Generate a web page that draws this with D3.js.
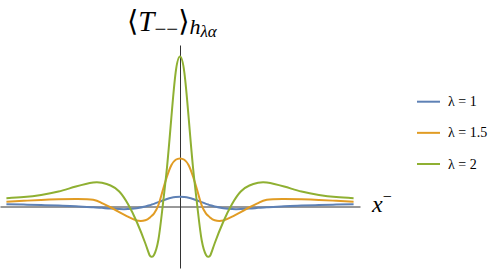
<!DOCTYPE html>
<html>
<head>
<meta charset="utf-8">
<script src="https://cdn.jsdelivr.net/npm/d3@7"></script>
<style>
  body { margin: 0; background: #fff; }
  svg { display: block; }
</style>
</head>
<body>
<div id="chart"></div>
<script>
// sample positions along x-
const xValues = [-10, -9, -8, -7, -6, -5, -4.5, -4, -3.5, -3, -2.5, -2, -1.75, -1.625, -1.5, -1.25, -1, -0.75, -0.5, -0.25,
  0, 0.25, 0.5, 0.75, 1, 1.25, 1.5, 1.625, 1.75, 2, 2.5, 3, 3.5, 4, 4.5, 5, 6, 7, 8, 9, 10];

const lambda1 = [0.15, 0.13, 0.1, 0.06, 0.02, -0.05, -0.09, -0.14, -0.17, -0.17, -0.11, 0.0, 0.08, 0.13, 0.18, 0.29, 0.4, 0.5, 0.58, 0.63,
  0.65, 0.63, 0.58, 0.5, 0.4, 0.29, 0.18, 0.13, 0.08, 0.0, -0.11, -0.17, -0.17, -0.14, -0.09, -0.05, 0.02, 0.06, 0.1, 0.13, 0.15];

const lambda15 = [0.32, 0.38, 0.44, 0.48, 0.5, 0.45, 0.22, -0.05, -0.38, -0.68, -0.93, -0.92, -0.75, -0.62, -0.47, 0.08, 1.05, 2.0, 2.75, 3.12,
  3.21, 3.12, 2.75, 2.0, 1.05, 0.08, -0.47, -0.62, -0.75, -0.92, -0.93, -0.68, -0.38, -0.05, 0.22, 0.45, 0.5, 0.48, 0.44, 0.38, 0.32];

const lambda2 = [0.55, 0.63, 0.77, 1.0, 1.33, 1.6, 1.58, 1.4, 1.0, 0.17, -1.0, -2.45, -3.25, -3.35, -3.23, -2.25, 0.0, 2.6, 5.9, 8.95,
  10.0, 8.95, 5.9, 2.6, 0.0, -2.25, -3.23, -3.35, -3.25, -2.45, -1.0, 0.17, 1.0, 1.4, 1.58, 1.6, 1.33, 1.0, 0.77, 0.63, 0.55];

const seriesNames = ["λ = 1", "λ = 1.5", "λ = 2"];
const seriesValues = [lambda1, lambda15, lambda2];
const colors = ["#5e81b5", "#e19c24", "#8fb032"];

const serif = "'Liberation Serif', 'DejaVu Serif', serif";
const W = 498, H = 270;

const svg = d3.select("#chart")
  .append("svg")
    .attr("width", W)
    .attr("height", H);

const x = d3.scaleLinear().domain([-10.37, 10.37]).range([0, 360]);
const y = d3.scaleLinear().domain([-4.1, 10.77]).range([268, 45]);

// axes through the origin, no ticks
svg.append("g")
  .attr("transform", `translate(0,${y(0)})`)
  .call(d3.axisBottom(x).tickValues([]).tickSizeOuter(0));
svg.append("g")
  .attr("transform", `translate(${x(0)},0)`)
  .call(d3.axisLeft(y).tickValues([]).tickSizeOuter(0));
svg.selectAll(".domain").attr("stroke", "#333").attr("stroke-width", 1);

const line = d3.line()
  .x(d => x(d[0]))
  .y(d => y(d[1]))
  .curve(d3.curveNatural);

seriesValues.forEach((vals, i) => {
  svg.append("path")
    .datum(xValues.map((xv, j) => [xv, vals[j]]))
    .attr("fill", "none")
    .attr("stroke", colors[i])
    .attr("stroke-width", 2)
    .attr("d", line);
});

// title
const title = svg.append("text")
  .attr("x", 127)
  .attr("y", 31)
  .style("font-family", serif)
  .attr("font-size", 29);
title.append("tspan").text("⟨");
title.append("tspan").attr("font-style", "italic").text("T");
title.append("tspan").attr("dy", 5).attr("font-size", 21).text("−−");
title.append("tspan").attr("dy", -5).text("⟩");
title.append("tspan").attr("dy", 3).attr("font-style", "italic").attr("font-size", 22).text("h");
title.append("tspan").attr("dy", 3).attr("font-style", "italic").attr("font-size", 17).text("λα");

// x-axis label
const xl = svg.append("text")
  .attr("x", 372)
  .attr("y", 212)
  .style("font-family", serif)
  .attr("font-size", 24);
xl.append("tspan").attr("font-style", "italic").text("x");
xl.append("tspan").attr("dy", -10).attr("font-size", 16).text("−");

// legend
const ly = d3.scalePoint().domain(seriesNames).range([101.7, 164]);
const legend = svg.append("g");
seriesNames.forEach((name, i) => {
  legend.append("line")
    .attr("x1", 417).attr("x2", 440)
    .attr("y1", ly(name)).attr("y2", ly(name))
    .attr("stroke", colors[i])
    .attr("stroke-width", 2);
  legend.append("text")
    .attr("x", 448)
    .attr("y", ly(name) + 4.5)
    .style("font-family", serif)
    .attr("font-size", 14)
    .text(name);
});
</script>
</body>
</html>
